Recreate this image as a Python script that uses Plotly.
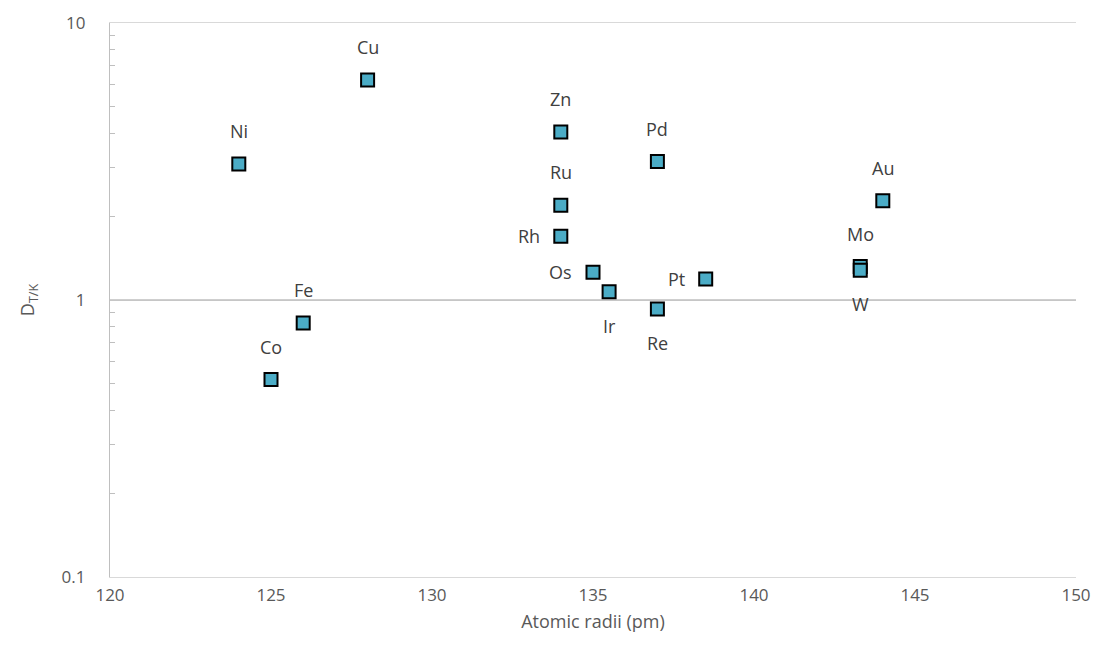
import math
import plotly.graph_objects as go

# Element, atomic radius (pm) and partition coefficient D_T/K
elements = ["Ni", "Cu", "Fe", "Co", "Zn", "Ru", "Rh", "Os", "Ir", "Pd", "Re", "Pt", "Mo", "W", "Au"]
atomic_radii = [124, 128, 126, 125, 134, 134, 134, 135, 135.5, 137, 137, 138.5, 143.3, 143.3, 144]
d_tk = [3.10, 6.23, 0.826, 0.516, 4.04, 2.20, 1.70, 1.26, 1.07, 3.16, 0.928, 1.19, 1.32, 1.28, 2.28]
label_side = ["above", "above", "above", "above", "above", "above", "left", "left", "below",
              "above", "below", "left", "above", "below", "above"]

x_range = [120, 150]
y_major = [0.1, 1, 10]
y_minor = [0.2, 0.3, 0.4, 0.5, 0.6, 0.7, 0.8, 0.9, 2, 3, 4, 5, 6, 7, 8, 9]

LABEL_FONT = dict(family="Open Sans", size=18, color="#404040")
TICK_FONT = dict(family="Open Sans", size=17, color="#595959")
TITLE_FONT = dict(family="Open Sans", size=18, color="#595959")

fig = go.Figure()

# horizontal axis crossing line at D = 1
fig.add_trace(go.Scatter(
    x=x_range, y=[1, 1], mode="lines",
    line=dict(color="#bfbfbf", width=1.3),
    hoverinfo="skip", showlegend=False,
))

fig.add_trace(go.Scatter(
    x=atomic_radii, y=d_tk, mode="markers",
    marker=dict(symbol="square", size=13, color="#4bacc6",
                line=dict(color="#000000", width=2)),
    text=elements, hovertemplate="%{text}: %{x} pm, %{y}<extra></extra>",
    showlegend=False,
))

# element labels (annotation y is given in log10 units on a log axis)
for name, xv, yv, side in zip(elements, atomic_radii, d_tk, label_side):
    ann = dict(x=xv, y=math.log10(yv), xref="x", yref="y", text=name,
               showarrow=False, font=LABEL_FONT)
    if side == "above":
        ann.update(yshift=33)
    elif side == "below":
        ann.update(yshift=-34)
    else:
        ann.update(xanchor="right", xshift=-19)
    fig.add_annotation(**ann)

fig.update_layout(
    width=1096, height=658,
    margin=dict(l=110, r=20, t=23, b=81, autoexpand=False),
    paper_bgcolor="white", plot_bgcolor="white",
    font=dict(family="Open Sans"),
)

fig.update_xaxes(
    range=x_range, dtick=5, tick0=120, ticks="",
    showgrid=False, zeroline=False, automargin=False,
    showline=True, linecolor="#d9d9d9", linewidth=1.3, mirror=True,
    tickfont=TICK_FONT, ticklabelstandoff=2, ticklabeloverflow="allow",
    title=dict(text="Atomic radii (pm)", font=TITLE_FONT, standoff=10),
)

fig.update_yaxes(
    type="log", range=[-1, 1], automargin=False,
    tickmode="array", tickvals=y_major, ticktext=["0.1", "1", "10"],
    ticks="", showgrid=True, gridcolor="#d9d9d9", gridwidth=1.3,
    showline=True, linecolor="#bfbfbf", linewidth=1.3,
    tickfont=TICK_FONT, ticklabelstandoff=20,
    minor=dict(tickmode="array", tickvals=y_minor, ticks="inside", ticklen=5,
               tickcolor="#bfbfbf", tickwidth=1.3, showgrid=False),
    title=dict(text="D<sub>T/K</sub>", font=TITLE_FONT, standoff=22),
)

fig.write_html("out.html")
